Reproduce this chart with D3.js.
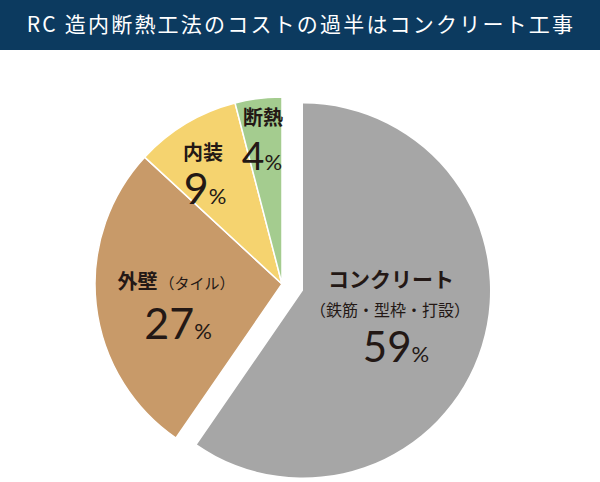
<!DOCTYPE html>
<html>
<head>
<meta charset="utf-8">
<script src="https://cdn.jsdelivr.net/npm/d3@7"></script>
<style>
  body { margin: 0; background: #fff; }
  svg { display: block; font-family: "Noto Sans CJK JP", sans-serif; }
</style>
</head>
<body>
<div id="chart"></div>
<script>
// Data
var categories = ["コンクリート", "外壁", "内装", "断熱"];
var values = [59, 27, 9, 4];
var subLabels = ["（鉄筋・型枠・打設）", "（タイル）", "", ""];
var colors = ["#a6a6a6", "#c89a69", "#f5d36f", "#a4cc8f"];

var svgWidth = 600;
var svgHeight = 482;

var svg = d3.select("#chart")
  .append("svg")
  .attr("width", svgWidth)
  .attr("height", svgHeight);

// Title bar
svg.append("rect")
  .attr("x", 0).attr("y", 0)
  .attr("width", svgWidth).attr("height", 50)
  .attr("fill", "#0c3a5f");

svg.append("text")
  .attr("x", svgWidth / 2 + 1)
  .attr("y", 32)
  .attr("text-anchor", "middle")
  .attr("fill", "#fff")
  .attr("font-size", 21)
  .attr("letter-spacing", 2.2)
  .text("RC 造内断熱工法のコストの過半はコンクリート工事");

// Pie
var cx = 282, cy = 284, radius = 187, explode = 22;

var pie = d3.pie().sort(null).value(d => d);
var arcs = pie(values);
var arc = d3.arc().innerRadius(0).outerRadius(radius);

var g = svg.append("g").attr("transform", `translate(${cx}, ${cy})`);

g.selectAll("path")
  .data(arcs)
  .enter()
  .append("path")
  .attr("d", arc)
  .attr("fill", (d, i) => colors[i])
  .attr("stroke", (d, i) => i === 0 ? "none" : "#fff")
  .attr("stroke-width", 1.5)
  .attr("transform", function(d, i) {
    if (i !== 0) return null;
    var mid = (d.startAngle + d.endAngle) / 2;
    return `translate(${explode * Math.sin(mid)}, ${-explode * Math.cos(mid)})`;
  });

// Labels (positions)
var labelPos = [
  { x: 391, y: 287, sub: 316, nx: 396, num: 362, size: 42 },
  { x: 176, y: 289, sub: 289, nx: 178, num: 339, size: 43 },
  { x: 203, y: 160, sub: 0, nx: 205, num: 204, size: 43 },
  { x: 263, y: 125, sub: 0, nx: 262, num: 170, size: 39 }
];
var ink = "#231815";

categories.forEach(function(name, i) {
  var p = labelPos[i];
  if (i === 1) {
    // name and subtitle on one line
    var t = svg.append("text")
      .attr("x", p.x).attr("y", p.y)
      .attr("text-anchor", "middle")
      .attr("fill", ink);
    t.append("tspan").attr("font-size", 20).attr("font-weight", 700).text(name);
    t.append("tspan").attr("font-size", 15).attr("dx", 2).text(subLabels[i]);
  } else {
    svg.append("text")
      .attr("x", p.x).attr("y", p.y)
      .attr("text-anchor", "middle")
      .attr("fill", ink)
      .attr("font-size", i === 0 ? 21 : 20)
      .attr("font-weight", 700)
      .text(name);
    if (subLabels[i]) {
      svg.append("text")
        .attr("x", p.x - 1).attr("y", p.sub)
        .attr("text-anchor", "middle")
        .attr("fill", ink)
        .attr("font-size", 16)
        .text(subLabels[i]);
    }
  }
  var n = svg.append("text")
    .attr("x", p.nx).attr("y", p.num)
    .attr("text-anchor", "middle")
    .attr("fill", ink)
    .attr("font-family", "Lato, sans-serif")
    .attr("font-weight", 400);
  n.append("tspan").attr("font-size", p.size).text(values[i]);
  n.append("tspan").attr("font-size", 22).text("%");
});
</script>
</body>
</html>
